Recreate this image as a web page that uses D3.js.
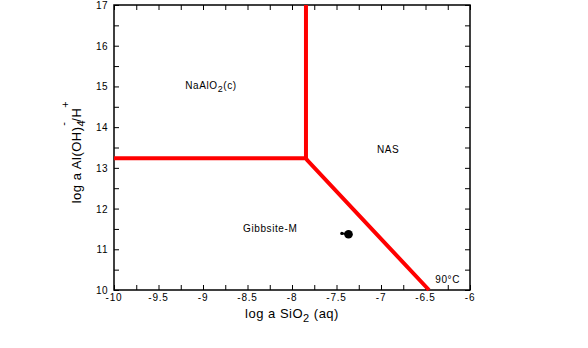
<!DOCTYPE html>
<html><head><meta charset="utf-8">
<script src="https://cdn.jsdelivr.net/npm/d3@7"></script>
<style>body{margin:0;background:#fff}svg{display:block}text{font-family:"Liberation Sans",Arial,sans-serif}</style>
</head><body><svg id="c" width="588" height="348"></svg>
<script>
const xDomain = [-10, -6];
const yDomain = [10, 17];
const xTickLabels = [-10, -9.5, -9, -8.5, -8, -7.5, -7, -6.5, -6];
const yTickLabels = [10, 11, 12, 13, 14, 15, 16, 17];
// phase boundaries (log a SiO2, log a Al(OH)4-/H+)
const boundaryVertical = [[-7.843, 17], [-7.843, 13.235]];
const boundaryHorizontal = [[-10, 13.235], [-7.843, 13.235]];
const boundaryDiagonal = [[-7.843, 13.235], [-7.83, 13.19], [-6.461, 10]];
const samplePoints = [[-7.365, 11.37]];
const sampleTail = [[-7.44, 11.39], [-7.38, 11.38]];
const fieldLabels = [
  {name: "NaAlO", sub: "2", after: "(c)", x: -9.2, y: 14.94},
  {name: "NAS", sub: "", after: "", x: -7.045, y: 13.37},
  {name: "Gibbsite-M", sub: "", after: "", x: -8.55, y: 11.42},
  {name: "90°C", sub: "", after: "", x: -6.39, y: 10.17}
];

const svg = d3.select("#c");
const L = 114, R = 470, T = 5, B = 290;
const x = d3.scaleLinear().domain(xDomain).range([L, R]);
const y = d3.scaleLinear().domain(yDomain).range([B, T]);

const xTicks = d3.range(-10, -5.99, 0.25);
const yTicks = d3.range(10, 17.01, 0.5);

// axes (inward ticks)
svg.append("g").attr("transform", `translate(0,${B})`)
  .call(d3.axisTop(x).tickValues(xTicks).tickSize(5).tickFormat(""))
  .call(g => g.select(".domain").remove());
svg.append("g").attr("transform", `translate(0,${T})`)
  .call(d3.axisBottom(x).tickValues(xTicks).tickSize(5).tickFormat(""))
  .call(g => g.select(".domain").remove());
svg.append("g").attr("transform", `translate(${L},0)`)
  .call(d3.axisRight(y).tickValues(yTicks).tickSize(5).tickFormat(""))
  .call(g => g.select(".domain").remove());
svg.append("g").attr("transform", `translate(${R},0)`)
  .call(d3.axisLeft(y).tickValues(yTicks).tickSize(5).tickFormat(""))
  .call(g => g.select(".domain").remove());
svg.selectAll(".tick line").attr("stroke", "#000").attr("stroke-width", 1);

svg.append("rect").attr("x", L).attr("y", T).attr("width", R - L).attr("height", B - T)
  .attr("fill", "none").attr("stroke", "#000").attr("stroke-width", 1.5);

// tick labels
svg.append("g").selectAll("text").data(xTickLabels).join("text")
  .attr("x", d => x(d)).attr("y", B + 11).attr("text-anchor", "middle")
  .attr("font-size", 10).attr("letter-spacing", 0.8).text(d => String(d));
svg.append("g").selectAll("text").data(yTickLabels).join("text")
  .attr("x", L - 6).attr("y", d => y(d) + 4).attr("text-anchor", "end")
  .attr("font-size", 10).attr("letter-spacing", 0.5).text(d => String(d));

// boundaries
const line = d3.line().x(d => x(d[0])).y(d => y(d[1]));
[boundaryVertical, boundaryHorizontal, boundaryDiagonal].forEach(b =>
  svg.append("path").attr("d", line(b)).attr("fill", "none")
    .attr("stroke", "#ff0000").attr("stroke-width", 4));

// sample
svg.append("path").attr("d", line(sampleTail)).attr("stroke", "#000").attr("stroke-width", 2).attr("fill", "none");
svg.selectAll(".tail").data(sampleTail.slice(0, 1)).join("circle")
  .attr("cx", d => x(d[0])).attr("cy", d => y(d[1])).attr("r", 1.6).attr("fill", "#000");
svg.selectAll(".pt").data(samplePoints).join("circle")
  .attr("cx", d => x(d[0])).attr("cy", d => y(d[1])).attr("r", 4.3).attr("fill", "#000");

// field labels
fieldLabels.forEach(f => {
  const t = svg.append("text").attr("x", x(f.x)).attr("y", y(f.y))
    .attr("font-size", 10).attr("letter-spacing", 0.6);
  t.append("tspan").text(f.name);
  if (f.sub) {
    t.append("tspan").attr("dy", 3).attr("font-size", 9).text(f.sub);
    t.append("tspan").attr("dy", -3).text(f.after);
  }
});

// axis titles
const xt = svg.append("text").attr("x", 292).attr("y", 318).attr("text-anchor", "middle")
  .attr("font-size", 13).attr("letter-spacing", 0.5);
xt.append("tspan").text("log a SiO");
xt.append("tspan").attr("dy", 4).attr("font-size", 11).text("2");
xt.append("tspan").attr("dy", -4).text(" (aq)");

const yt = svg.append("text").attr("transform", "translate(81,152) rotate(-90)")
  .attr("text-anchor", "middle").attr("font-size", 13).attr("letter-spacing", 0.5);
yt.append("tspan").text("log a Al(OH)");
yt.append("tspan").attr("dy", 4).attr("font-size", 11).text("4");
yt.append("tspan").attr("dy", -18).attr("dx", -6).attr("font-size", 11).text("-");
yt.append("tspan").attr("dy", 14).text("/H");
yt.append("tspan").attr("dy", -12).attr("font-size", 11).text("+");
</script></body></html>
